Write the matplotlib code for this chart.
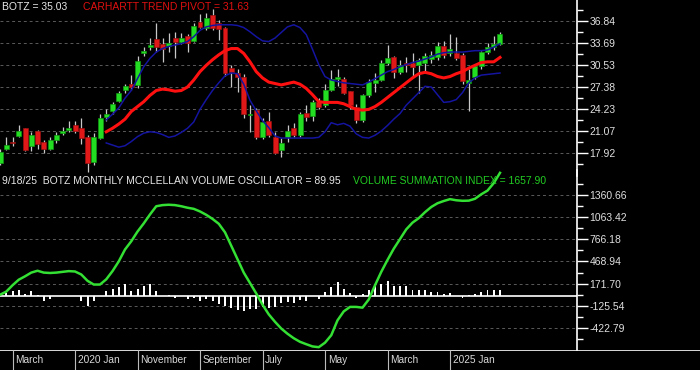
import numpy as np
import matplotlib.pyplot as plt

plt.rcParams['font.family'] = ['Liberation Sans', 'DejaVu Sans']

nan = np.nan

# monthly candles, Jan 2019 .. Sep 2025
opens = [16.6, 18.6, 19.5, 20.4, 21.5, 18.9, 21.1, 19.6, 18.6, 19.8,
         20.8, 21.3, 22.0, 21.5, 20.2, 16.7, 20.1, 23.1, 23.9, 25.4,
         27.0, 27.8, 27.7, 32.2, 33.1, 34.2, 33.6, 33.3, 34.4, 33.9,
         34.7, 34.0, 36.7, 35.8, 37.7, 36.6, 35.8, 30.1, 29.4, 28.9,
         23.4, 24.1, 20.3, 22.6, 20.3, 18.4, 20.3, 21.6, 20.5, 23.7,
         23.2, 25.3, 24.8, 27.0, 28.5, 28.6, 26.8, 24.6, 22.7, 26.2,
         28.0, 28.4, 30.9, 31.7, 29.6, 30.9, 30.8, 30.5, 30.9, 31.4,
         31.7, 33.3, 32.3, 32.2, 32.0, 28.0, 28.9, 30.4, 32.4, 33.1,
         33.6]
highs = [18.5, 20.3, 20.3, 21.9, 21.6, 20.9, 21.3, 19.8, 20.2, 21.0,
         21.7, 22.5, 22.6, 22.9, 20.5, 20.8, 23.5, 24.2, 25.3, 26.9,
         27.9, 29.1, 31.8, 33.1, 34.4, 36.5, 34.4, 35.1, 35.3, 35.1,
         35.0, 36.5, 37.8, 38.0, 38.6, 37.0, 36.0, 30.5, 30.0, 29.2,
         24.8, 24.4, 23.0, 23.8, 21.0, 20.1, 21.9, 22.3, 23.8, 24.8,
         25.6, 25.8, 27.8, 29.8, 30.0, 28.8, 26.9, 24.9, 26.4, 28.5,
         29.4, 31.3, 33.4, 31.9, 31.2, 31.7, 32.2, 31.6, 32.3, 32.5,
         33.8, 34.0, 35.0, 34.5, 32.3, 30.0, 30.6, 32.6, 33.7, 34.7,
         35.2]
lows = [16.3, 18.4, 18.9, 20.3, 18.3, 18.3, 18.6, 17.9, 18.4, 19.4,
        20.5, 21.0, 20.8, 19.3, 15.2, 16.2, 19.9, 22.6, 23.6, 25.2,
        26.6, 27.0, 27.3, 31.8, 32.7, 32.4, 31.0, 32.4, 31.5, 33.5,
        32.4, 33.8, 35.9, 35.5, 35.5, 34.1, 29.0, 27.4, 26.7, 23.0,
        21.0, 20.0, 20.0, 20.2, 17.8, 17.4, 19.6, 20.3, 20.3, 22.6,
        22.5, 24.3, 24.6, 26.9, 27.6, 26.4, 24.3, 22.3, 22.4, 25.9,
        26.7, 28.3, 30.5, 28.7, 29.2, 29.5, 28.8, 26.5, 29.5, 30.8,
        31.3, 31.5, 31.8, 31.3, 27.9, 23.9, 28.6, 30.0, 32.1, 32.7,
        33.4]
closes = [18.1, 19.1, 19.4, 21.1, 18.4, 20.5, 19.3, 18.5, 19.8, 20.6,
          21.1, 21.55, 21.1, 20.1, 16.6, 20.3, 22.9, 23.5, 24.9, 26.6,
          27.5, 27.35, 31.1, 32.5, 33.35, 33.1, 32.9, 33.7, 33.9, 34.4,
          33.7, 36.1, 36.0, 37.2, 35.8, 35.7, 29.4, 29.5, 28.9, 23.6,
          23.5, 20.3, 22.4, 20.5, 17.9, 19.4, 21.1, 20.5, 23.5, 23.1,
          25.3, 24.6, 26.95, 28.5, 28.8, 26.6, 24.8, 22.7, 26.2, 28.1,
          28.4, 30.9, 31.5, 29.6, 30.5, 30.6, 30.3, 31.2, 31.8, 32.0,
          33.2, 32.0, 32.8, 31.6, 28.3, 28.4, 30.4, 32.4, 33.1, 33.6,
          35.03]

upper_band = [nan] * 17 + [
    22.7, 23.5, 24.4, 25.8, 26.9, 28.6, 30.3, 31.5, 32.4, 32.9,
    33.2, 33.4, 33.6, 33.9, 34.6, 35.5, 36.0, 36.2, 36.3, 36.3,
    36.3, 36.2, 35.9, 35.3, 34.6, 34.0, 33.9, 34.4, 35.2, 36.0,
    36.3, 35.9, 34.9, 32.8, 30.6, 28.9, 28.4, 28.2, 28.0, 27.9,
    27.8, 27.7, 28.1, 28.6, 29.1, 29.6, 29.9, 30.3, 30.6, 30.9,
    31.1, 31.4, 31.7, 32.1, 32.3, 32.4, 32.4, 32.4, 32.5, 32.6,
    32.6, 32.7, 33.1, 33.6]
lower_band = [nan] * 17 + [
    19.4, 19.1, 18.8, 19.0, 19.6, 20.3, 20.8, 21.0, 20.9, 20.6,
    20.2, 20.4, 20.9, 21.5, 22.4, 24.2, 25.6, 26.9, 28.0, 29.0,
    29.4, 29.3, 27.8, 25.5, 24.0, 22.6, 21.6, 20.4, 20.1, 20.1,
    20.1, 20.1, 20.1, 20.1, 20.2, 21.0, 22.3, 22.0, 22.2, 21.8,
    20.7, 20.2, 20.1, 20.5, 21.1, 21.9, 22.8, 23.6, 24.8, 25.7,
    26.6, 27.5, 27.4, 26.3, 25.2, 25.3, 25.6, 26.6, 28.0, 28.7,
    29.1, 29.2, 29.3, 29.4]
trend_pivot = [nan] * 17 + [
    21.0, 21.5, 22.1, 22.8, 23.9, 24.6, 25.3, 26.2, 26.9, 27.1,
    27.0, 26.8, 26.9, 27.4, 28.4, 29.6, 30.5, 31.3, 32.0, 32.6,
    32.9, 32.9, 32.2, 31.0, 29.6, 28.7, 28.1, 27.9, 27.7, 27.9,
    28.1, 27.8, 27.2, 26.3, 25.3, 25.2, 25.2, 25.2, 25.0, 24.6,
    24.2, 24.1, 24.2, 24.6, 25.2, 25.9, 26.6, 27.3, 28.0, 28.7,
    29.3, 29.5, 29.3, 28.9, 28.7, 28.9, 29.3, 29.6, 30.1, 30.5,
    30.9, 31.0, 31.0, 31.63]

# McClellan volume oscillator (bars) and summation index (line)
oscillator = [30, 46, 68, 90, 36, 68, 23, -58, -31, 0,
              12, 12, 0, -58, -122, -58, 12, 68, 99, 126,
              167, 77, 105, 140, 162, 77, 0, 23, -18, 0,
              -32, -20, -62, -32, -62, -95, -128, -155, -180, -196,
              -170, -171, -135, -158, -135, -81, -68, -81, -45, -58,
              0, -36, 54, 126, 194, 104, 50, -27, 36, 90,
              158, 167, 212, 135, 135, 135, 81, 90, 81, 63,
              63, 27, 45, 0, -27, 18, 27, 63, 90, 90,
              89.95]
summation = [23, 65, 150, 225, 270, 320, 345, 320, 315, 320,
             330, 340, 335, 295, 210, 160, 160, 230, 340, 470,
             630, 740, 870, 980, 1100, 1210, 1225, 1230, 1225, 1210,
             1190, 1175, 1140, 1095, 1040, 975, 860, 680, 500, 320,
             180, 40, -110, -240, -340, -430, -500, -560, -608, -640,
             -670, -680, -620, -520, -320, -200, -140, -140, -150, -40,
             150, 330, 490, 640, 770, 900, 990, 1050, 1130, 1200,
             1250, 1280, 1305, 1290, 1283, 1285, 1310, 1370, 1420, 1520,
             1657.9]

date_labels = ['March', '2020 Jan', 'November', 'September', 'July', 'May', 'March', '2025 Jan']
date_idx = [2, 12, 22, 32, 42, 52, 62, 72]
price_ticks = [17.92, 21.07, 24.23, 27.38, 30.53, 33.69, 36.84]
osc_ticks = [-422.79, -125.54, 171.70, 468.94, 766.18, 1063.42, 1360.66]

W, H = 700, 370
px = 6.25          # pixels per month
plot_w = 577
x = np.arange(len(closes))

fig = plt.figure(figsize=(W / 100, H / 100), dpi=100, facecolor='black')
ax1 = fig.add_axes([0, 1 - 176 / H, plot_w / W, 176 / H])
ax2 = fig.add_axes([0, 20 / H, plot_w / W, 180 / H])
ax3 = fig.add_axes([0, 0, 1, 20 / H])

def style_axis(ax, ticks):
    ax.set_facecolor('none')
    for s in ['left', 'top', 'bottom']:
        ax.spines[s].set_visible(False)
    ax.spines['right'].set_color('white')
    ax.spines['right'].set_linewidth(1.2)
    ax.set_xlim(0, plot_w / px)
    ax.set_xticks([])
    ax.yaxis.tick_right()
    ax.set_yticks(ticks)
    ax.set_yticklabels([f'{v:.2f}' for v in ticks])
    step = ticks[1] - ticks[0]
    mids = [ticks[0] - step / 2] + [(a + b) / 2 for a, b in zip(ticks[:-1], ticks[1:])] + [ticks[-1] + step / 2]
    ax.set_yticks(mids, minor=True)
    ax.tick_params(axis='y', which='major', colors='white', length=8, width=1, pad=1,
                   labelsize=7.5, labelcolor='#e0e0e0')
    ax.tick_params(axis='y', which='minor', colors='white', length=4, width=1)
    for t in ticks:
        ax.axhline(t, color='#5a5a5a', lw=0.7, ls=(0, (3, 3)), zorder=0)

# price panel
style_axis(ax1, price_ticks)
k = (36.84 - 17.92) / 132.3
ax1.set_ylim(36.84 - (176 - 21) * k, 36.84 + 21 * k)

up = np.array(closes) >= np.array(opens)
body_col = np.where(up, '#22dd22', '#e01818')
edge_col = np.where(up, '#119911', '#991010')
bottoms = np.minimum(opens, closes)
heights = np.maximum(np.abs(np.array(closes) - np.array(opens)), 0.12)
ax1.vlines(x, lows, highs, color='#c8c8c8', lw=0.9, zorder=2)
ax1.bar(x, heights, bottom=bottoms, width=0.8, color=body_col, edgecolor=edge_col,
        linewidth=0.5, zorder=3)
ax1.plot(x, upper_band, color='#1414a0', lw=1.1, zorder=4)
ax1.plot(x, lower_band, color='#1414a0', lw=1.1, zorder=4)
ax1.plot(x, trend_pivot, color='#ff1010', lw=2.2, zorder=5)

# oscillator panel
style_axis(ax2, osc_ticks)
v = (1360.66 - (-422.79)) / 133
ax2.set_ylim(-422.79 - 22 * v, 1360.66 + 25 * v)
ax2.bar(x, oscillator, width=0.32, color='white', zorder=2)
ax2.axhline(0, color='white', lw=1.2, zorder=3)
ax2.plot(x, summation, color='#33e033', lw=1.8, zorder=4)

# date strip
ax3.set_facecolor('none')
ax3.axis('off')
ax3.set_xlim(0, W / px)
ax3.set_ylim(0, 1)
ax3.axhline(1, color='white', lw=1.2)
ax3.vlines(date_idx, 0, 1, color='#bbbbbb', lw=0.8)
for i, lab in zip(date_idx, date_labels):
    ax3.text(i + 0.45, 0.5, lab, color='#d8d8d8', fontsize=7.3, va='center', ha='left')

# headers
fig.text(2 / W, 1 - 6.5 / H, 'BOTZ = 35.03', color='#e8e8e8', fontsize=7.5, va='center')
fig.text(83 / W, 1 - 6.5 / H, 'CARHARTT TREND PIVOT = 31.63', color='#e01010', fontsize=7.5, va='center')
fig.text(2 / W, 1 - 181.5 / H, '9/18/25  BOTZ MONTHLY MCCLELLAN VOLUME OSCILLATOR = 89.95',
         color='#e8e8e8', fontsize=7.5, va='center')
fig.text(353 / W, 1 - 181.5 / H, 'VOLUME SUMMATION INDEX = 1657.90', color='#22cc22',
         fontsize=7.5, va='center')

fig.savefig('out.png', dpi=100, facecolor='black')
